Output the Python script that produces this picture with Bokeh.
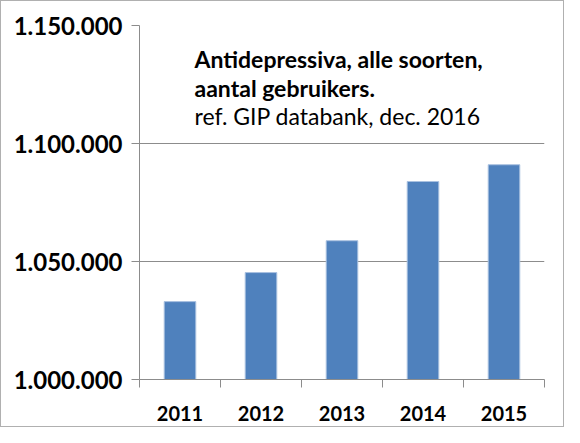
from bokeh.plotting import figure
from bokeh.models import FixedTicker, Range1d, Label
from bokeh.embed import file_html
from bokeh.resources import INLINE

years = ["2011", "2012", "2013", "2014", "2015"]
users = [1033000, 1045300, 1058800, 1083900, 1091000]
y_ticks = [1000000, 1050000, 1100000, 1150000]
y_labels = [f"{t:,}".replace(",", ".") for t in y_ticks]
title_lines = ["Antidepressiva, alle soorten,", "aantal gebruikers.", "ref. GIP databank, dec. 2016"]

FONT = "Lato"
GREY = "#8c8c8c"

xs = list(range(1, len(years) + 1))

p = figure(width=564, height=427, output_backend="svg", toolbar_location=None,
           x_range=Range1d(0.5, len(years) + 0.5), y_range=Range1d(1000000, 1150000),
           min_border_left=138, min_border_right=21, min_border_top=24, min_border_bottom=49)
p.outline_line_color = None
p.background_fill_color = "white"
p.border_fill_color = "white"
p.styles = {"border": "1px solid #b0b0b0"}

p.vbar(x=xs, top=users, bottom=1000000, width=0.39, fill_color="#4f81bd", line_color="#a9c1e0", line_width=1)

p.xgrid.grid_line_color = None
p.ygrid.ticker = FixedTicker(ticks=y_ticks)
p.ygrid.grid_line_color = GREY
p.ygrid.grid_line_width = 1

p.xaxis.ticker = FixedTicker(ticks=xs, minor_ticks=[x - 0.5 for x in xs] + [xs[-1] + 0.5])
p.xaxis.major_label_overrides = {x: y for x, y in zip(xs, years)}
p.xaxis.major_tick_out = 0
p.xaxis.major_tick_in = 0
p.xaxis.minor_tick_out = 8
p.xaxis.minor_tick_in = 0
p.xaxis.minor_tick_line_color = GREY
p.xaxis.axis_line_color = GREY
p.xaxis.major_label_text_font = FONT
p.xaxis.major_label_text_font_style = "bold"
p.xaxis.major_label_text_font_size = "20px"
p.xaxis.major_label_text_color = "black"
p.xaxis.major_label_standoff = 18

p.yaxis.ticker = FixedTicker(ticks=y_ticks, minor_ticks=[])
p.yaxis.major_label_overrides = {t: l for t, l in zip(y_ticks, y_labels)}
p.yaxis.major_tick_out = 8
p.yaxis.major_tick_in = 0
p.yaxis.major_tick_line_color = GREY
p.yaxis.axis_line_color = GREY
p.yaxis.major_label_text_font = FONT
p.yaxis.major_label_text_font_style = "bold"
p.yaxis.major_label_text_font_size = "24px"
p.yaxis.major_label_text_color = "black"
p.yaxis.major_label_standoff = 9

title_y = [1135800, 1123700, 1111500]
styles = ["bold", "bold", "normal"]
for txt, yy, st in zip(title_lines, title_y, styles):
    p.add_layout(Label(x=1.179, y=yy, text=txt, text_font=FONT, text_font_style=st,
                       text_font_size="23px", text_color="black", text_baseline="alphabetic",
                       text_align="left"))

open("out.html", "w").write(file_html(p, INLINE))
